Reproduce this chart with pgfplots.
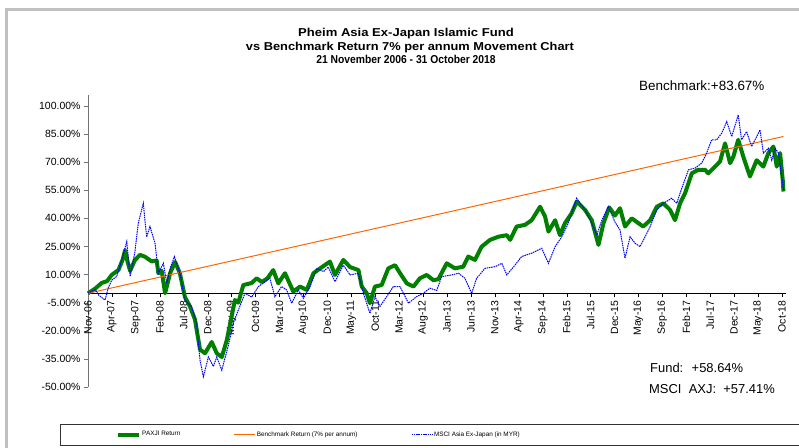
\documentclass[border=0pt]{standalone}
\usepackage{fontspec}
\setmainfont{Liberation Sans}
\usepackage{pgfplots}
\pgfplotsset{compat=1.18}

\definecolor{fundgreen}{RGB}{0,128,0}
\definecolor{benchorange}{RGB}{255,102,0}
\definecolor{msciblue}{RGB}{0,0,255}
\definecolor{framegray}{RGB}{192,192,192}

\begin{document}
\begin{tikzpicture}
\useasboundingbox (0,0) rectangle (799bp,-448bp);
% screenshot frame
\fill[framegray] (5bp,-8bp) rectangle (799bp,-11bp);
\fill[framegray] (5bp,-8bp) rectangle (8bp,-448bp);

% title
\node[font=\bfseries\fontsize{11.5}{12}\selectfont, anchor=base] at (406bp,-36.7bp) {\scalebox{1.14}[1]{Pheim Asia Ex-Japan Islamic Fund}};
\node[font=\bfseries\fontsize{11.5}{12}\selectfont, anchor=base] at (410bp,-50bp) {\scalebox{1.12}[1]{vs Benchmark Return 7\% per annum Movement Chart}};
\node[font=\bfseries\fontsize{11.5}{12}\selectfont, anchor=base] at (406bp,-63.3bp) {\scalebox{0.9}[1]{21 November 2006 - 31 October 2018}};

\begin{axis}[
  at={(88bp,-387bp)}, anchor=south west,
  scale only axis, width=697.6bp, height=292.2bp,
  xmin=0, xmax=29.15, ymin=-50, ymax=105.9,
  axis y line*=left, axis x line*=middle,
  hide obscured x ticks=false, hide obscured y ticks=false,
  x axis line style={black},
  y axis line style={black!55},
  tick align=outside,
  major tick length=4bp,
  xtick style={black},
  ytick style={black!55},
  xtick={0,...,29},
  xticklabels={Nov-06,Apr-07,Sep-07,Feb-08,Jul-08,Dec-08,May-09,Oct-09,Mar-10,Aug-10,Dec-10,May-11,Oct-11,Mar-12,Aug-12,Jan-13,Jun-13,Nov-13,Apr-14,Sep-14,Feb-15,Jul-15,Dec-15,May-16,Sep-16,Feb-17,Jul-17,Dec-17,May-18,Oct-18},
  xticklabel style={rotate=90, anchor=east, font=\fontsize{10.5}{12}\selectfont},
  ytick={-50,-35,-20,-5,10,25,40,55,70,85,100},
  /pgf/number format/assume math mode=true,
  yticklabel={\pgfmathprintnumber[fixed,fixed zerofill,precision=2]{\tick}\%},
  yticklabel style={font=\fontsize{10.5}{12}\selectfont},
  legend columns=-1,
  legend image code/.code={\draw[#1] (0bp,0bp) -- (21bp,0bp);},
  legend style={at={(0.0402,-0.1626)}, anchor=west, draw=none, fill=none,
    inner sep=0pt, font=\fontsize{6.4}{7.5}\selectfont,
    nodes={inner xsep=1bp},
    /tikz/every even column/.append style={column sep=52.5bp}},
  clip=false,
]
\addplot[fundgreen, line width=4bp, line join=round] coordinates {
(0,0) (0.3,2.5) (0.57,5.5) (0.8,6.5) (0.99,9.8) (1.27,12.4) (1.45,18) (1.55,23) (1.65,17) (1.76,12)
(1.96,17.7) (2.17,20.5) (2.38,19.5) (2.66,17) (2.87,17.5) (2.94,10.7) (3.08,12) (3.22,0) (3.43,10.7)
(3.64,16.7) (3.84,10.7) (4.05,-2) (4.26,-7) (4.47,-14) (4.68,-30) (4.89,-32) (5.17,-26) (5.38,-32)
(5.59,-34) (5.8,-25) (6.0,-12.5) (6.14,-3.6) (6.28,-5) (6.49,4.4) (6.84,5.5) (7.05,8) (7.26,6) (7.5,8)
(7.74,12.4) (7.95,5.3) (8.23,10.7) (8.58,0.9) (8.86,3.6) (9.14,1.8) (9.42,10.7) (9.7,13.3) (10.11,16.9)
(10.32,9.8) (10.67,17.8) (10.95,14) (11.3,12.4) (11.44,3.6) (11.65,0) (11.78,-5.3) (11.99,3.6)
(12.27,4.4) (12.55,13.3) (12.83,15) (13.04,10.7) (13.32,5.3) (13.6,3.6) (13.87,8) (14.15,9.8) (14.43,7)
(14.64,7.5) (14.99,16) (15.33,13.3) (15.68,14.2) (15.89,19.6) (16.17,17.8) (16.45,24.9) (16.8,28.5)
(17.15,30.2) (17.5,31) (17.64,28.5) (17.91,35.6) (18.26,36.5) (18.54,39) (18.89,46.2) (19.1,40.9)
(19.24,32.9) (19.52,39) (19.72,31) (19.93,37.4) (20.21,42.7) (20.42,48.9) (20.77,44.5) (21.05,39)
(21.33,25.8) (21.54,37.4) (21.78,45.8) (22.02,41.5) (22.23,45.4) (22.44,35.6) (22.72,40) (23.0,37.4)
(23.2,35.6) (23.49,39) (23.77,46.2) (24.04,48) (24.32,44.5) (24.53,39) (24.74,48) (24.95,53.4)
(25.23,64) (25.5,65.9) (25.78,65.9) (25.92,64) (26.2,67.6) (26.41,70.3) (26.62,80) (26.83,69.4)
(26.97,73) (27.17,81.9) (27.38,73) (27.66,62.3) (27.94,71) (28.22,67.6) (28.43,74.8) (28.64,78.3)
(28.78,67.6) (28.92,74.8) (29.03,60.5) (29.06,54.3)
};
\addlegendentry{PAXJI Return}
\addplot[benchorange, line width=1bp] coordinates {(0,0) (29.06,83.67)};
\addlegendentry{Benchmark Return (7\% per annum)}
\addplot[msciblue, line width=1bp, dash pattern=on 1.5bp off 0.8bp] coordinates {
(0,0) (0.3,2) (0.45,-1) (0.71,-3.6) (0.85,3) (0.99,7) (1.2,9) (1.41,17.8) (1.62,27.6) (1.76,9)
(1.96,22) (2.1,37.3) (2.31,48) (2.45,30) (2.59,35.6) (2.8,26.7) (2.94,10.7) (3.15,16) (3.29,5.3)
(3.45,14) (3.61,19.5) (3.84,10.7) (4.05,-3.6) (4.33,-7.2) (4.54,-16) (4.68,-35.6) (4.82,-44.5)
(5.03,-34) (5.24,-39) (5.38,-34) (5.59,-41) (5.86,-28) (6.07,-16) (6.28,-9) (6.56,0) (6.84,-2)
(7.12,3.6) (7.6,8) (7.81,-1.8) (8.09,3.6) (8.3,1.8) (8.51,-5.3) (8.79,1.8) (9.0,-2.7) (9.28,3.6)
(9.56,13.3) (9.84,11.6) (10.04,14) (10.32,6.2) (10.67,15) (10.95,9.8) (11.3,10.7) (11.51,0)
(11.78,-10.7) (11.99,-1.8) (12.2,-7) (12.48,-1.8) (12.76,3.6) (13.04,3.6) (13.39,-5.3) (13.73,-1.8)
(14.01,0) (14.29,2.7) (14.57,1.5) (14.78,8.9) (15.2,9.8) (15.48,10.7) (15.75,8) (16.03,0) (16.24,8)
(16.59,13.3) (17.01,14.2) (17.29,16) (17.5,9.8) (17.84,15) (18.12,19.6) (18.54,21.4) (18.96,24)
(19.24,16) (19.52,24.9) (19.8,30.2) (20.07,37.4) (20.42,50.7) (20.77,44.5) (21.05,37.4) (21.26,31)
(21.47,39) (21.74,46.2) (22.02,38) (22.23,33.8) (22.44,18.7) (22.65,30.2) (22.86,26.7) (23.07,24.9)
(23.28,30.2) (23.49,35.6) (23.77,44.5) (24.04,48) (24.39,50.7) (24.6,48) (24.81,56) (25.09,65.9)
(25.37,66.8) (25.64,69.4) (25.85,74.8) (26.06,81.9) (26.27,81.9) (26.48,85.4) (26.69,91.6) (26.9,83.6)
(27.17,95.2) (27.31,81.9) (27.52,86.3) (27.73,78.3) (27.94,83.6) (28.08,87.2) (28.22,74.8) (28.43,77.4)
(28.57,71) (28.71,77.4) (28.85,74.8) (28.99,62.3) (29.06,55.2)
};
\addlegendentry{MSCI Asia Ex-Japan (in MYR)}
\end{axis}

% annotations
\node[font=\fontsize{13.5}{15}\selectfont, anchor=base west, inner sep=0pt] at (639bp,-90bp) {Benchmark:+83.67\%};
\node[font=\fontsize{13}{15}\selectfont, anchor=base west, inner sep=0pt] at (650bp,-372bp) {Fund:~ +58.64\%};
\node[font=\fontsize{13}{15}\selectfont, anchor=base west, inner sep=0pt] at (649bp,-393bp) {MSCI~ AXJ:~ +57.41\%};

% legend frame
\draw[black!80, line width=0.8bp] (60bp,-424bp) rectangle (812bp,-445bp);
\end{tikzpicture}
\end{document}
